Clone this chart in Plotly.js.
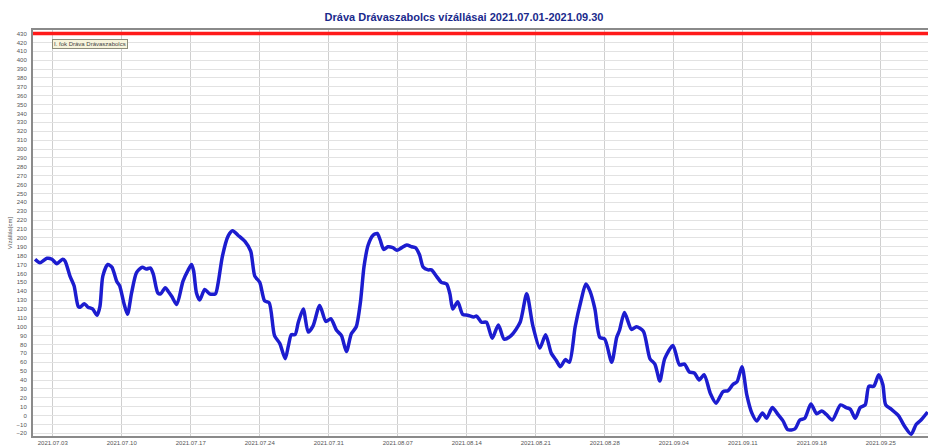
<!DOCTYPE html>
<html>
<head>
<meta charset="utf-8">
<script src="https://cdn.plot.ly/plotly-3.0.1.min.js"></script>
<style>
  body { margin: 0; background: #fff; }
  #chart { width: 928px; height: 447px; }
</style>
</head>
<body>
<div id="chart"></div>
<script>
// időpontok (óránként kiolvasva a képről)
var times = [
  '2021-07-01 05:00', '2021-07-01 17:00', '2021-07-02 10:00', '2021-07-02 22:00', '2021-07-03 10:00',
  '2021-07-04 00:00', '2021-07-04 06:00', '2021-07-04 18:00', '2021-07-05 04:00', '2021-07-05 14:00',
  '2021-07-05 19:00', '2021-07-06 05:00', '2021-07-06 14:00', '2021-07-07 01:00', '2021-07-07 12:00',
  '2021-07-07 19:00', '2021-07-08 02:00', '2021-07-08 14:00', '2021-07-09 00:00', '2021-07-09 12:00',
  '2021-07-09 19:00', '2021-07-10 05:00', '2021-07-10 14:00', '2021-07-11 00:00', '2021-07-11 12:00',
  '2021-07-12 02:00', '2021-07-12 12:00', '2021-07-12 22:00', '2021-07-13 05:00', '2021-07-13 16:00',
  '2021-07-13 23:00', '2021-07-14 10:00', '2021-07-14 17:00', '2021-07-15 02:00', '2021-07-15 14:00',
  '2021-07-16 05:00', '2021-07-16 18:00', '2021-07-17 02:00', '2021-07-17 07:00', '2021-07-17 14:00',
  '2021-07-17 22:00', '2021-07-18 10:00', '2021-07-18 22:00', '2021-07-19 12:00', '2021-07-19 19:00',
  '2021-07-20 05:00', '2021-07-20 19:00', '2021-07-21 06:00', '2021-07-21 19:00', '2021-07-22 12:00',
  '2021-07-23 02:00', '2021-07-23 12:00', '2021-07-24 00:00', '2021-07-24 12:00', '2021-07-24 23:00',
  '2021-07-25 12:00', '2021-07-26 01:00', '2021-07-26 14:00', '2021-07-26 22:00', '2021-07-27 05:00',
  '2021-07-27 14:00', '2021-07-27 22:00', '2021-07-28 10:00', '2021-07-28 22:00', '2021-07-29 10:00',
  '2021-07-30 02:00', '2021-07-30 17:00', '2021-07-31 05:00', '2021-07-31 19:00', '2021-08-01 07:00',
  '2021-08-01 19:00', '2021-08-02 07:00', '2021-08-02 19:00', '2021-08-03 05:00', '2021-08-03 14:00',
  '2021-08-04 00:00', '2021-08-04 12:00', '2021-08-04 22:00', '2021-08-05 05:00', '2021-08-05 14:00',
  '2021-08-06 00:00', '2021-08-06 12:00', '2021-08-06 22:00', '2021-08-07 10:00', '2021-08-07 22:00',
  '2021-08-08 10:00', '2021-08-08 19:00', '2021-08-09 05:00', '2021-08-09 14:00', '2021-08-10 02:00',
  '2021-08-10 10:00', '2021-08-10 22:00', '2021-08-11 10:00', '2021-08-11 23:00', '2021-08-12 07:00',
  '2021-08-12 14:00', '2021-08-13 02:00', '2021-08-13 14:00', '2021-08-14 02:00', '2021-08-14 17:00',
  '2021-08-15 00:00', '2021-08-15 12:00', '2021-08-16 00:00', '2021-08-16 14:00', '2021-08-17 05:00',
  '2021-08-17 19:00', '2021-08-18 12:00', '2021-08-19 10:00', '2021-08-20 02:00', '2021-08-20 17:00',
  '2021-08-21 10:00', '2021-08-22 00:00', '2021-08-22 14:00', '2021-08-23 02:00', '2021-08-23 12:00',
  '2021-08-24 00:00', '2021-08-24 10:00', '2021-08-25 00:00', '2021-08-25 14:00', '2021-08-26 02:00',
  '2021-08-26 12:00', '2021-08-27 00:00', '2021-08-27 12:00', '2021-08-28 00:00', '2021-08-28 17:00',
  '2021-08-29 05:00', '2021-08-29 12:00', '2021-08-30 00:00', '2021-08-30 17:00', '2021-08-31 05:00',
  '2021-08-31 22:00', '2021-09-01 14:00', '2021-09-02 02:00', '2021-09-02 14:00', '2021-09-03 02:00',
  '2021-09-03 22:00', '2021-09-04 14:00', '2021-09-05 02:00', '2021-09-05 14:00', '2021-09-06 02:00',
  '2021-09-06 14:00', '2021-09-07 02:00', '2021-09-07 17:00', '2021-09-08 07:00', '2021-09-09 00:00',
  '2021-09-09 12:00', '2021-09-10 00:00', '2021-09-10 10:00', '2021-09-10 22:00', '2021-09-11 10:00',
  '2021-09-11 22:00', '2021-09-12 10:00', '2021-09-13 00:00', '2021-09-13 10:00', '2021-09-14 00:00',
  '2021-09-14 14:00', '2021-09-15 02:00', '2021-09-15 14:00', '2021-09-16 07:00', '2021-09-16 19:00',
  '2021-09-17 07:00', '2021-09-17 22:00', '2021-09-18 12:00', '2021-09-19 00:00', '2021-09-19 12:00',
  '2021-09-20 02:00', '2021-09-20 22:00', '2021-09-21 12:00', '2021-09-21 22:00', '2021-09-22 10:00',
  '2021-09-22 22:00', '2021-09-23 10:00', '2021-09-23 19:00', '2021-09-24 07:00', '2021-09-24 19:00',
  '2021-09-25 05:00', '2021-09-25 12:00', '2021-09-26 02:00', '2021-09-26 19:00', '2021-09-27 10:00',
  '2021-09-28 02:00', '2021-09-28 14:00', '2021-09-29 02:00', '2021-09-29 18:00'
];

// vízállás [cm]
var levels = [
  176, 172, 177, 176, 171,
  176, 174, 157, 146, 123,
  122, 126, 122, 120, 113,
  123, 157, 170, 167, 151,
  146, 127, 114, 138, 161,
  167, 165, 166, 159, 138,
  137, 144, 140, 134, 125,
  151, 164, 170, 163, 138,
  130, 142, 137, 137, 150,
  179, 202, 208, 203, 196,
  185, 157, 150, 129, 127,
  90, 81, 64, 79, 91,
  91, 105, 120, 94, 101,
  124, 106, 109, 96, 90,
  72, 92, 100, 127, 168,
  192, 203, 205, 198, 187,
  190, 189, 186, 189, 192,
  190, 189, 181, 167, 164,
  164, 157, 150, 148, 137,
  120, 128, 114, 113, 111,
  112, 105, 105, 87, 102,
  86, 90, 105, 137, 101,
  76, 91, 70, 62, 55,
  63, 60, 100, 129, 148,
  140, 120, 88, 86, 60,
  88, 96, 116, 97, 100,
  95, 64, 58, 39, 64,
  79, 57, 58, 49, 48,
  40, 46, 25, 14, 27,
  28, 35, 38, 55, 23,
  3, -6, 3, -3, 9,
  1, -6, -16, -15, -5,
  -3, 13, 2, 5, 1,
  -5, 12, 9, 7, -3,
  9, 12, 33, 33, 46,
  35, 12, 7, 0, -12,
  -21, -10, -5, 4
];

var alertLevel = 430;
var alertName = 'I. fok Dráva Drávaszabolcs';

var szint = {
  x: times,
  y: levels,
  type: 'scatter',
  mode: 'lines',
  line: { color: '#1c1ccf', width: 3.5, shape: 'spline', smoothing: 0.7 },
  showlegend: false,
  hoverinfo: 'x+y'
};

var layout = {
  width: 928,
  height: 447,
  margin: { l: 33, r: 0, t: 30, b: 11 },
  paper_bgcolor: '#ffffff',
  plot_bgcolor: '#ffffff',
  font: { family: 'Liberation Sans, Arial, sans-serif', size: 6, color: '#555' },
  title: {
    text: '<b>Dráva Drávaszabolcs vízállásai 2021.07.01-2021.09.30</b>',
    font: { family: 'Liberation Sans, Arial, sans-serif', size: 11, color: '#1a2a8c' },
    x: 0.5, xanchor: 'center',
    y: 0.962, yanchor: 'middle'
  },
  xaxis: {
    type: 'date',
    range: ['2021-07-01 00:00', '2021-09-29 19:00'],
    tick0: '2021-07-03',
    dtick: 7 * 24 * 3600 * 1000,
    tickformat: '%Y.%m.%d',
    tickfont: { size: 6, color: '#555' },
    showgrid: true,
    gridcolor: '#cfcfcf',
    gridwidth: 1,
    showline: true,
    linecolor: '#8a8a8a',
    linewidth: 2,
    mirror: true,
    ticks: '',
    ticklabelstandoff: 0,
    zeroline: false
  },
  yaxis: {
    range: [-23, 434],
    tick0: 0,
    dtick: 10,
    tickfont: { size: 6, color: '#555' },
    showgrid: true,
    gridcolor: '#e2e2e2',
    gridwidth: 1,
    showline: true,
    linecolor: '#8a8a8a',
    linewidth: 2,
    mirror: true,
    ticks: '',
    ticklabelstandoff: 3,
    zeroline: false,
    title: { text: 'Vízállás[cm]', font: { size: 6, color: '#555' }, standoff: 4 }
  },
  shapes: [{
    type: 'line',
    xref: 'paper', x0: 0, x1: 1,
    yref: 'y', y0: alertLevel, y1: alertLevel,
    line: { color: '#ff1a1a', width: 3.5 }
  }],
  annotations: [{
    text: alertName,
    xref: 'paper', x: 0.021, xanchor: 'left',
    yref: 'paper', y: 0.978, yanchor: 'top',
    showarrow: false,
    font: { size: 6, color: '#444' },
    bgcolor: '#f7f4dc',
    bordercolor: '#8c8c7a',
    borderwidth: 1,
    borderpad: 1
  }]
};

Plotly.newPlot('chart', [szint], layout, { displayModeBar: false, staticPlot: true });
</script>
</body>
</html>
